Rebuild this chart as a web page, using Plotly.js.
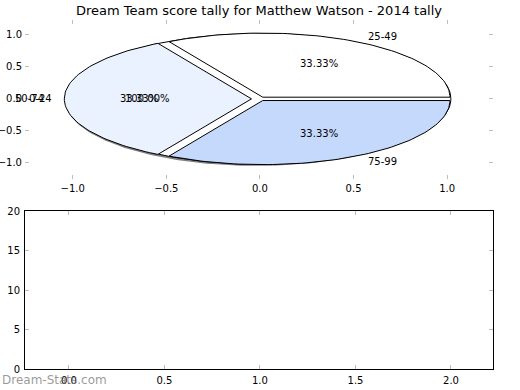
<!DOCTYPE html>
<html><head><meta charset="utf-8">
<script src="https://cdn.plot.ly/plotly-3.0.1.min.js"></script>
<style>html,body{margin:0;padding:0;background:#fff}#chart{width:520px;height:390px}</style>
</head><body><div id="chart"></div>
<script>
// Data
const categories = ["25-49", "50-74", "75-99"];
const tallies = [1, 1, 1];
const fullLabel = ["0-24"];
const fullTally = [1];
const pieTicks = [-1.0, -0.5, 0.0, 0.5, 1.0];
const lowerXTicks = [0.0, 0.5, 1.0, 1.5, 2.0];
const lowerYTicks = [0, 5, 10, 15, 20];

// Styles
const sliceColors = ["#ffffff", "#eaf1ff", "#c5d9fc"];
const explode = [0.03, 0.045, 0.03];
const FONT = "DejaVu Sans, sans-serif";

function wedgePts(cx, cy, r, t1, t2) {
  const full = Math.abs((t2 - t1) - 360) < 1e-9;
  const xs = full ? [] : [cx], ys = full ? [] : [cy];
  const n = Math.max(2, Math.ceil((t2 - t1) / 1.5));
  for (let i = 0; i <= n; i++) {
    const t = (t1 + (t2 - t1) * i / n) * Math.PI / 180;
    xs.push(cx + r * Math.cos(t)); ys.push(cy + r * Math.sin(t));
  }
  if (!full) { xs.push(cx); ys.push(cy); }
  return {xs, ys};
}

const traces = [];
const annotations = [];

function addPie(values, labels, colors, expl, radius, shadow) {
  const total = values.reduce((a, b) => a + b, 0);
  let acc = 0;
  values.forEach((v, i) => {
    const t1 = acc / total * 360;
    acc += v;
    const t2 = acc / total * 360;
    const tm = (t1 + t2) / 2 * Math.PI / 180;
    const cx = expl[i] * Math.cos(tm), cy = expl[i] * Math.sin(tm);
    const w = wedgePts(cx, cy, radius, t1, t2);
    if (shadow) {
      traces.push({type: "scatter", mode: "lines", x: w.xs.map(x => x - 0.02), y: w.ys.map(y => y - 0.025),
        fill: "toself", fillcolor: "rgba(60,60,60,0.65)", line: {width: 0}, hoverinfo: "skip",
        showlegend: false, xaxis: "x", yaxis: "y"});
    }
    traces.push({type: "scatter", mode: "lines", x: w.xs, y: w.ys, fill: "toself",
      fillcolor: colors[i], line: {color: "#000", width: 1}, hoverinfo: "skip",
      showlegend: false, xaxis: "x", yaxis: "y"});
    const lx = cx + 1.1 * Math.cos(tm), ly = cy + 1.1 * Math.sin(tm);
    annotations.push({xref: "x", yref: "y", x: lx, y: ly, text: labels[i], showarrow: false,
      xanchor: lx > 0 ? "left" : "right", yanchor: "middle", font: {family: FONT, size: 10, color: "#000"}});
    const px = cx + 0.6 * Math.cos(tm), py = cy + 0.6 * Math.sin(tm);
    annotations.push({xref: "x", yref: "y", x: px, y: py, text: (v / total * 100).toFixed(2) + "%",
      showarrow: false, xanchor: "center", yanchor: "middle", font: {family: FONT, size: 10, color: "#000"}});
  });
}

addPie(fullTally, fullLabel, ["#ffffff"], [0], 1.02, true);
addPie(tallies, categories, sliceColors, explode, 1.0, false);

// empty lower axes
traces.push({type: "scatter", mode: "markers", x: [], y: [], xaxis: "x2", yaxis: "y2", showlegend: false});

annotations.push({xref: "paper", yref: "paper", x: 0, y: 1 - 380 / 390, xanchor: "left", yanchor: "middle",
  text: "Dream-Stats.com", showarrow: false, font: {family: FONT, size: 12, color: "rgba(120,120,120,0.75)"}});

const tickStyle = {ticks: "inside", ticklen: 4, tickwidth: 1, tickcolor: "#bdbdbd", showgrid: false, zeroline: false,
  tickfont: {family: FONT, size: 10, color: "#000"}};

const layout = {
  width: 520, height: 390,
  margin: {l: 0, r: 0, t: 0, b: 0},
  paper_bgcolor: "#fff", plot_bgcolor: "rgba(0,0,0,0)",
  showlegend: false,
  title: {text: "Dream Team score tally for Matthew Watson - 2014 tally", x: 259 / 520, xanchor: "center",
    y: 1 - 10 / 390, yanchor: "middle", font: {family: FONT, size: 13, color: "#000"}},
  xaxis: Object.assign({}, tickStyle, {domain: [25 / 520, 493 / 520], range: [-1.255, 1.245], anchor: "y",
    tickvals: pieTicks, ticktext: pieTicks.map(v => v.toFixed(1).replace("-", "\u2212")), showline: false, mirror: "ticks", ticklabelstandoff: 2}),
  yaxis: Object.assign({}, tickStyle, {domain: [1 - 179 / 390, 1 - 20 / 390], range: [-1.25, 1.23], anchor: "x",
    tickvals: pieTicks, ticktext: pieTicks.map(v => v.toFixed(1).replace("-", "\u2212")), showline: false, mirror: "ticks", ticklabelstandoff: 2}),
  xaxis2: Object.assign({}, tickStyle, {domain: [25 / 520, 493 / 520], range: [-0.23, 2.22], anchor: "y2",
    tickvals: lowerXTicks, ticktext: lowerXTicks.map(v => v.toFixed(1)), showline: true, linecolor: "#000", linewidth: 1, mirror: "ticks", ticklabelstandoff: 2}),
  yaxis2: Object.assign({}, tickStyle, {domain: [1 - 369 / 390, 1 - 211 / 390], range: [0, 20], anchor: "x2",
    tickvals: lowerYTicks, ticktext: lowerYTicks.map(String), showline: true, linecolor: "#000", linewidth: 1, mirror: "ticks", ticklabelstandoff: 2}),
  annotations: annotations
};

Plotly.newPlot("chart", traces, layout, {staticPlot: true, displayModeBar: false});
</script>
</body></html>
